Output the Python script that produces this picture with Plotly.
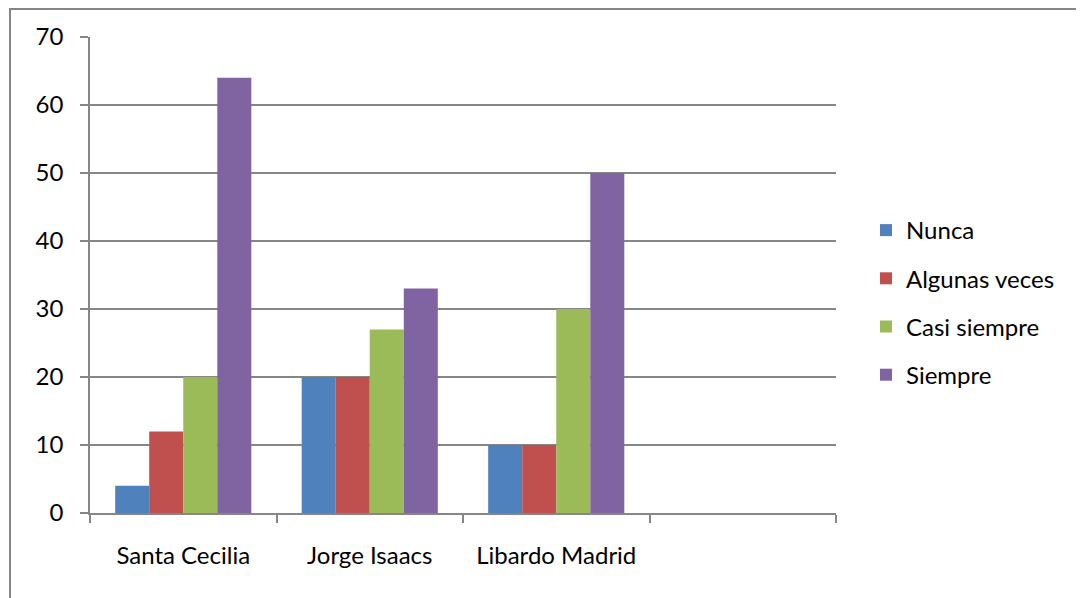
import plotly.graph_objects as go

categories = ["Santa Cecilia", "Jorge Isaacs", "Libardo Madrid", " "]
series_names = ["Nunca", "Algunas veces", "Casi siempre", "Siempre"]
nunca = [4, 20, 10]
algunas_veces = [12, 20, 10]
casi_siempre = [20, 27, 30]
siempre = [64, 33, 50]
y_ticks = [0, 10, 20, 30, 40, 50, 60, 70]

colors = ["#4F81BD", "#C0504D", "#9BBB59", "#8064A2"]
values = [nunca, algunas_veces, casi_siempre, siempre]

fig = go.Figure()
for i, (name, vals) in enumerate(zip(series_names, values)):
    fig.add_trace(go.Bar(
        x=categories[:3], y=vals, name=name,
        marker=dict(color=colors[i], line=dict(width=0)),
        legendgroup=name,
    ))

# page has an 8px body margin; work in page pixels and shift
OFF = 8
W, H = 1084 - OFF, 598 - OFF
L, R, T, B = 90 - OFF, 836 - OFF, 37 - OFF, 513 - OFF
pw, ph = R - L, B - T

def px_to_paper_x(px):
    return (px - OFF - L) / pw

def px_to_paper_y(py):
    return (B - (py - OFF)) / ph

FS = 24

fig.update_layout(
    width=W, height=H,
    margin=dict(l=L, r=W - R, t=T, b=H - B, autoexpand=False),
    paper_bgcolor="white",
    plot_bgcolor="white",
    font=dict(family="Lato, sans-serif", size=FS, color="#000000"),
    barmode="group",
    bargap=0.27,
    bargroupgap=0,
    showlegend=True,
    legend=dict(
        x=px_to_paper_x(866), y=px_to_paper_y(208), xanchor="left", yanchor="top",
        font=dict(size=FS), tracegroupgap=14, itemwidth=30,
        bgcolor="rgba(0,0,0,0)",
    ),
    xaxis=dict(
        type="category",
        categoryorder="array",
        categoryarray=categories,
        range=[-0.5, 3.5],
        tickson="boundaries",
        ticks="outside",
        ticklen=8,
        tickcolor="#868686",
        tickwidth=1.5,
        showline=True,
        linecolor="#868686",
        linewidth=1.5,
        showgrid=False,
        tickfont=dict(size=FS),
        ticklabelstandoff=20,
        fixedrange=True,
    ),
    yaxis=dict(
        range=[0, 70],
        tickvals=y_ticks,
        ticks="outside",
        ticklen=8,
        tickcolor="#868686",
        tickwidth=1.5,
        showline=True,
        linecolor="#868686",
        linewidth=1.5,
        showgrid=True,
        gridcolor="#868686",
        gridwidth=1.5,
        zeroline=False,
        tickfont=dict(size=FS),
        ticklabelstandoff=12,
    ),
    shapes=[dict(
        type="rect", xref="paper", yref="paper",
        x0=px_to_paper_x(10), x1=px_to_paper_x(1080),
        y0=px_to_paper_y(640), y1=px_to_paper_y(9),
        line=dict(color="#868686", width=2), fillcolor="rgba(0,0,0,0)", layer="below",
    )],
)

fig.write_html("out.html")
